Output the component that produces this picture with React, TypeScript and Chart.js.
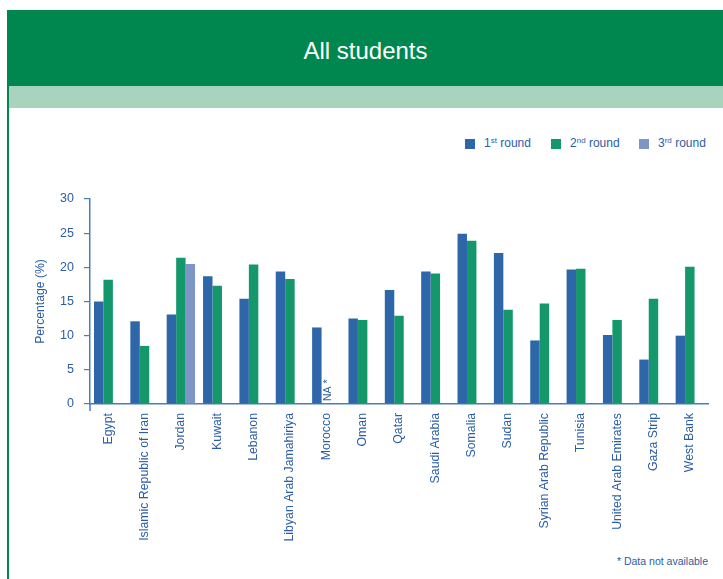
import React, { useEffect, useRef } from 'react';
import { Chart, registerables } from 'chart.js';

Chart.register(...registerables);

const categories = [
  'Egypt',
  'Islamic Republic of Iran',
  'Jordan',
  'Kuwait',
  'Lebanon',
  'Libyan Arab Jamahiriya',
  'Morocco',
  'Oman',
  'Qatar',
  'Saudi Arabia',
  'Somalia',
  'Sudan',
  'Syrian Arab Republic',
  'Tunisia',
  'United Arab Emirates',
  'Gaza Strip',
  'West Bank',
];
const round1 = [15.0, 12.1, 13.1, 18.7, 15.4, 19.4, 11.2, 12.5, 16.7, 19.4, 24.9, 22.1, 9.3, 19.7, 10.1, 6.5, 10.0];
const round2 = [18.2, 8.5, 21.4, 17.3, 20.4, 18.3, null, 12.3, 12.9, 19.1, 23.9, 13.8, 14.7, 19.8, 12.3, 15.4, 20.1];
const round3 = [null, null, 20.5, null, null, null, null, null, null, null, null, null, null, null, null, null, null];
const yTicks = [0, 5, 10, 15, 20, 25, 30];
const seriesNames = [
  { n: '1', sup: 'st' },
  { n: '2', sup: 'nd' },
  { n: '3', sup: 'rd' },
];
const naLabel = 'NA *';
const footnote = '* Data not available';
const title = 'All students';
const yTitle = 'Percentage (%)';

const BLUE = '#2E66AA';
const GREEN = '#14986B';
const LAVENDER = '#7E96C6';
const TEXT = '#2B5DA5';
const AXIS = '#4D7CBB';
const HEADER = '#00874F';
const BAND = '#A8D3BE';
const FONT = '"Liberation Sans", Arial, Helvetica, sans-serif';

const colors = [BLUE, GREEN, LAVENDER];

export default function App() {
  const canvasRef = useRef<HTMLCanvasElement | null>(null);

  useEffect(() => {
    const canvas = canvasRef.current;
    if (!canvas) return;

    const extras = {
      id: 'extras',
      afterDraw(chart: any) {
        const { ctx, chartArea } = chart;
        const xs = chart.scales.x;
        const ys = chart.scales.y;
        ctx.save();
        ctx.strokeStyle = AXIS;
        ctx.lineWidth = 1.5;
        ctx.beginPath();
        ctx.moveTo(chartArea.left, chartArea.bottom);
        ctx.lineTo(chartArea.left, chartArea.bottom + 7);
        ctx.stroke();
        ctx.fillStyle = TEXT;
        ctx.font = `10.5px ${FONT}`;
        round2.forEach((v, i) => {
          if (v === null && round1[i] !== null) {
            const px = xs.getPixelForValue(i) + 2;
            const py = ys.getPixelForValue(0) - 3;
            ctx.save();
            ctx.translate(px, py);
            ctx.rotate(-Math.PI / 2);
            ctx.textAlign = 'left';
            ctx.textBaseline = 'middle';
            ctx.fillText(naLabel, 0, 0);
            ctx.restore();
          }
        });
        ctx.restore();
      },
    };

    const chart = new Chart(canvas, {
      type: 'bar',
      data: {
        labels: categories,
        datasets: [round1, round2, round3].map((d, i) => ({
          label: `${seriesNames[i].n}${seriesNames[i].sup} round`,
          data: d,
          backgroundColor: colors[i],
          borderWidth: 0,
          categoryPercentage: 0.78,
          barPercentage: 1.0,
        })),
      },
      options: {
        animation: false,
        responsive: false,
        maintainAspectRatio: false,
        layout: { padding: { top: 199, right: 15, left: 29, bottom: 0 } },
        plugins: {
          legend: { display: false },
          tooltip: { enabled: false },
          title: { display: false },
        },
        scales: {
          x: {
            grid: { display: true, drawOnChartArea: false, drawTicks: false, color: AXIS },
            border: { display: true, color: AXIS, width: 1.5 },
            ticks: {
              color: TEXT,
              font: { family: FONT, size: 12.3 },
              minRotation: 90,
              maxRotation: 90,
              autoSkip: false,
              padding: 9,
            },
            afterFit: (s: any) => {
              s.height = 175;
            },
          },
          y: {
            min: 0,
            max: 30,
            afterBuildTicks: (s: any) => {
              s.ticks = yTicks.map((v) => ({ value: v }));
            },
            grid: { display: true, drawOnChartArea: false, drawTicks: true, tickLength: 6, color: AXIS, lineWidth: 1.2 },
            border: { display: true, color: AXIS, width: 1.5 },
            ticks: {
              color: TEXT,
              font: { family: FONT, size: 12.5 },
              padding: 10,
            },
            title: {
              display: true,
              text: yTitle,
              color: TEXT,
              font: { family: FONT, size: 12.2 },
              padding: { top: 4, bottom: 4 },
            },
            afterFit: (s: any) => {
              s.width = 61;
            },
          },
        },
      },
      plugins: [extras],
    });

    return () => chart.destroy();
  }, []);

  const legendLefts = [465, 551, 639];

  return (
    <div style={{ position: 'absolute', left: 0, top: 0, width: 723, height: 579, background: '#fff', overflow: 'hidden', fontFamily: FONT }}>
      <div style={{ position: 'absolute', left: 8, top: 10, width: 715, height: 76, background: HEADER }} />
      <div
        style={{
          position: 'absolute',
          left: 8,
          top: 13,
          width: 715,
          height: 76,
          display: 'flex',
          alignItems: 'center',
          justifyContent: 'center',
          color: '#fff',
          fontSize: 24,
          fontFamily: FONT,
        }}
      >
        {title}
      </div>
      <div style={{ position: 'absolute', left: 8, top: 86, width: 715, height: 22, background: BAND }} />
      <div style={{ position: 'absolute', left: 7, top: 10, width: 2, height: 569, background: HEADER }} />
      {seriesNames.map((s, i) => (
        <div key={i} style={{ position: 'absolute', left: legendLefts[i], top: 137, height: 14, display: 'flex', alignItems: 'center', whiteSpace: 'nowrap' }}>
          <span style={{ display: 'inline-block', width: 10, height: 10, background: colors[i], marginRight: 9 }} />
          <span style={{ color: TEXT, fontSize: 12, lineHeight: '14px' }}>
            {s.n}
            <span style={{ fontSize: 8, position: 'relative', top: -4 }}>{s.sup}</span> round
          </span>
        </div>
      ))}
      <div style={{ position: 'absolute', right: 15, top: 555, color: TEXT, fontSize: 10.5, whiteSpace: 'nowrap' }}>{footnote}</div>
      <canvas ref={canvasRef} width={723} height={579} style={{ position: 'absolute', left: 0, top: 0, width: 723, height: 579 }} />
    </div>
  );
}
